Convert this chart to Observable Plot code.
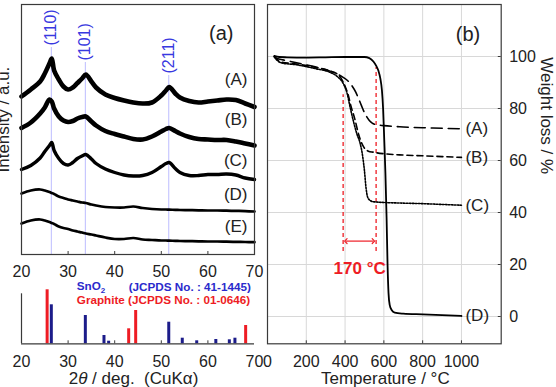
<!DOCTYPE html>
<html>
<head>
<meta charset="utf-8">
<script src="https://cdn.jsdelivr.net/npm/d3@7"></script>
<script src="https://cdn.jsdelivr.net/npm/@observablehq/plot@0.6"></script>
<style>
  body { margin: 0; background: #fff; }
  #fig { position: relative; width: 556px; height: 387px; overflow: hidden; background: #fff; }
  #fig svg { position: absolute; overflow: visible; background: transparent; }
</style>
</head>
<body>
<div id="fig"></div>
<script>
// ---------- (a) XRD patterns ----------
const twoTheta = [20, 22, 24, 25, 26, 26.5, 27, 28, 29, 30, 31, 32, 33, 33.8, 35, 36, 38, 40, 42, 44,
                  46, 48, 50, 51, 51.7, 53, 54, 56, 58, 60, 62, 64, 66, 68, 70];
const xrdA = [158, 165, 173, 181, 191, 196, 184, 175, 168, 165, 167, 171.5, 176, 180, 173, 167, 160, 156.5, 154, 152,
              151, 152, 159, 164, 167.5, 161, 157, 153.5, 152, 153, 154, 155, 154.5, 151, 147.5];
const xrdB = [126.5, 132, 141, 147, 155, 153, 146, 138, 134, 132.5, 133.5, 136, 137.5, 138, 133, 129, 123.5, 120.5, 118, 115.5,
              115, 118, 123, 125.5, 126.5, 123.5, 121, 117.5, 115.5, 115, 114.5, 114.5, 113, 111, 109];
const xrdC = [85, 89, 96.5, 103, 109, 112, 104, 96, 91, 89.5, 92, 96, 98.5, 100, 95.5, 91, 85.5, 82, 79.5, 78.5,
              79, 82, 88, 91, 92, 86, 82, 79, 79, 80, 80, 80.5, 79.5, 76.5, 75];
const xrdD = [61, 64, 65, 64, 62.5, 61.5, 60.5, 58, 56.5, 55, 54, 53, 52, 51.5, 50, 49, 47.5, 47, 47, 48,
              46.5, 45.5, 45, 45, 44.8, 44.7, 44.5, 44.4, 44.2, 44, 44, 43.8, 43.6, 43.4, 43];
const xrdE = [31, 34, 35, 34, 32.5, 31.5, 30.5, 28, 26.5, 25.5, 24, 23, 22, 21, 20, 19, 17, 15.5, 15.5, 16.5,
              15, 14.5, 14, 14, 13.8, 13.7, 13.5, 13.4, 13.2, 13, 13, 12.8, 12.6, 12.5, 12.3];
const sampleNames = ["(A)", "(B)", "(C)", "(D)", "(E)"];

// SnO2 reflections marked on the patterns
const hklIndex = ["(110)", "(101)", "(211)"];
const hklAngle = [26.4, 33.7, 51.6];

// Reference patterns
const sno2Angle = [26.4, 33.7, 37.7, 38.7, 51.6, 54.5, 57.6, 61.7, 64.6, 65.8];
const sno2Height = [39, 28.3, 8.3, 2.6, 21.6, 5.6, 3, 4.3, 4, 5.6];
const graphiteAngle = [25.5, 43.0, 44.5, 68.1];
const graphiteHeight = [54, 15, 33.3, 18.3];
const xrdTicks = [20, 30, 40, 50, 60, 70];

// ---------- (b) TG curves ----------
const tgTempA = [35, 50, 80, 150, 240, 340, 390, 415, 435, 455, 470, 485, 495, 510, 525, 540, 560, 600, 700, 800, 900, 1000];
const tgWtA   = [100, 99.2, 98.7, 97.6, 96.1, 93.9, 92, 90.6, 88.8, 86.3, 83.7, 81, 79.2, 77, 75.4, 74.4, 73.8, 73.4, 72.9, 72.6, 72.4, 72.2];
const tgTempB = [35, 50, 70, 150, 250, 320, 360, 380, 400, 415, 430, 450, 470, 490, 505, 520, 545, 600, 700, 800, 900, 1000];
const tgWtB   = [100, 98.8, 97.9, 97.1, 95.8, 94.5, 93.2, 91.6, 88.5, 85.5, 81, 76, 70, 66, 64.3, 63.6, 63.2, 62.6, 62.1, 61.8, 61.5, 61.2];
const tgTempC = [35, 50, 70, 150, 250, 323, 360, 392, 410, 426, 445, 461, 478, 490, 500, 508, 516, 528, 550, 700, 800, 900, 1000];
const tgWtC   = [99.8, 98.5, 97.6, 96.8, 95.3, 93.9, 92.3, 89.4, 86, 80.5, 74.5, 70.2, 66.5, 62, 56, 49.5, 46, 44.7, 44.1, 43.6, 43.4, 43.1, 42.8];
const tgTempD = [35, 60, 100, 200, 300, 400, 500, 525, 546, 560, 572, 582, 590, 596, 602, 608, 614, 619, 624, 630, 640, 656, 700, 800, 900, 1000];
const tgWtD   = [100.2, 99.8, 99.7, 99.6, 99.7, 99.8, 99.8, 99.4, 98.1, 96.5, 94.5, 91.5, 87, 80, 68, 55, 38, 20, 9, 4.5, 2.5, 1.5, 1.1, 0.8, 0.5, 0.2];
const tgNames = ["(A)", "(B)", "(C)", "(D)"];
const onsetTemp = [390, 560];
const onsetWeight = [85.3, 95.8];
const tempTicks = [0, 200, 400, 600, 800, 1000];
const weightTicks = [0, 20, 40, 60, 80, 100];

// ---------- styles ----------
const FONT = "'Liberation Sans', Arial, Helvetica, sans-serif";
const INK = "#222";
const FRAME = "#3a3a3a";
const RED = "#ee1c24";
const NAVY = "#1c1c8a";
const HKL_BLUE = "#3838e0";
const LEGEND_BLUE = "#2a2acc";
const plain = d => String(d);

const fig = document.getElementById("fig");
function place(svg, left, top) {
  svg.style.left = left + "px";
  svg.style.top = top + "px";
  fig.appendChild(svg);
  return svg;
}
// Rebuild a text node with styled spans (italic symbols, subscripts).
function richText(svg, plainText, parts) {
  const ns = "http://www.w3.org/2000/svg";
  svg.querySelectorAll("text").forEach(t => {
    if (t.textContent === plainText) {
      t.textContent = "";
      for (const [s, attrs] of parts) {
        const ts = document.createElementNS(ns, "tspan");
        ts.textContent = s;
        for (const k in attrs) ts.setAttribute(k, attrs[k]);
        t.appendChild(ts);
      }
    }
  });
}

// ---------- panel (a), patterns ----------
const xrdSeries = [xrdA, xrdB, xrdC, xrdD, xrdE];
const xrdWidths = [4.6, 4.6, 3.4, 2.7, 2.7];
const seriesRows = xrdSeries.map(vals => vals.map((v, i) => ({t: twoTheta[i], v})));
const hklTop = [207, 192, 179];          // where each rule meets its label
const sampleLabelY = [175, 135, 93.7, 59.7, 27.7];

const xrdPlot = Plot.plot({
  width: 270, height: 287,
  marginLeft: 21, marginRight: 16, marginTop: 4, marginBottom: 33,
  x: {domain: [20, 70]},
  y: {domain: [0, 250], axis: null},
  style: {fontFamily: FONT, fontSize: "16px", color: INK, background: "transparent", overflow: "visible"},
  marks: [
    Plot.ruleX(hklAngle, {x: d => d, y1: 0, y2: (d, i) => hklTop[i], stroke: "#bcbcff", strokeWidth: 1}),
    Plot.text(hklIndex, {x: (d, i) => hklAngle[i], y: (d, i) => hklTop[i] + 2, text: d => d,
      rotate: -90, textAnchor: "start", fill: HKL_BLUE, fontSize: 16}),
    ...seriesRows.map((rows, k) => Plot.line(rows, {x: "t", y: "v", curve: "catmull-rom",
      stroke: "#000", strokeWidth: xrdWidths[k], strokeLinejoin: "round"})),
    Plot.text(sampleNames, {y: (d, i) => sampleLabelY[i], text: d => d, frameAnchor: "right",
      dx: -7, textAnchor: "end", fontSize: 17, fill: INK}),
    Plot.text(["(a)"], {text: d => d, frameAnchor: "top-right", dx: -21, dy: 21, fontSize: 20, fill: INK}),
    Plot.text(["Intensity / a.u."], {text: d => d, frameAnchor: "left", dx: -12.5, dy: 43,
      rotate: -90, lineAnchor: "bottom", fontSize: 17, fill: INK}),
    Plot.ruleX(xrdTicks.slice(1, -1), {x: d => d, y1: 0, y2: 3, stroke: FRAME}),
    Plot.frame({stroke: FRAME, strokeWidth: 1.2}),
    Plot.axisX({ticks: xrdTicks, tickFormat: plain, tickSize: 0, tickPadding: 11, label: null, fontSize: 16})
  ]
});
place(xrdPlot, 0, 0);

// ---------- panel (a), reference patterns ----------
const refPlot = Plot.plot({
  width: 270, height: 117,
  marginLeft: 21, marginRight: 16, marginTop: 23.3, marginBottom: 43.7,
  x: {domain: [20, 70]},
  y: {domain: [0, 50], axis: null},
  style: {fontFamily: FONT, fontSize: "16px", color: INK, background: "transparent", overflow: "visible"},
  marks: [
    Plot.ruleX(graphiteAngle, {x: d => d, y1: 0, y2: (d, i) => graphiteHeight[i], stroke: RED, strokeWidth: 3}),
    Plot.ruleX(sno2Angle, {x: d => d, y1: 0, y2: (d, i) => sno2Height[i], stroke: NAVY, strokeWidth: 3}),
    Plot.ruleX([20], {x: d => d, stroke: FRAME, strokeWidth: 1.2}),
    Plot.ruleY([0], {y: d => d, stroke: FRAME, strokeWidth: 1.2}),
    Plot.ruleX(xrdTicks.slice(1, -1), {x: d => d, y1: 0, y2: 3, stroke: FRAME}),
    Plot.text(["SnO2"], {text: d => d, frameAnchor: "top-left", dx: 55.3, dy: -3.8, textAnchor: "start",
      lineAnchor: "bottom", fill: LEGEND_BLUE, fontWeight: "bold", fontSize: 11.7}),
    Plot.text(["(JCPDS No. : 41-1445)"], {text: d => d, frameAnchor: "top-right", dx: -3.7, dy: -3.3,
      textAnchor: "end", lineAnchor: "bottom", fill: LEGEND_BLUE, fontWeight: "bold", fontSize: 11.7}),
    Plot.text(["Graphite (JCPDS No. : 01-0646)"], {text: d => d, frameAnchor: "top-left", dx: 55.3, dy: 10.3,
      textAnchor: "start", lineAnchor: "bottom", fill: RED, fontWeight: "bold", fontSize: 11.7}),
    Plot.axisX({ticks: xrdTicks, tickFormat: plain, tickSize: 0, tickPadding: 12, label: null, fontSize: 16}),
    Plot.text(["2θ / deg.  (CuKα)"], {text: d => d, frameAnchor: "bottom", dx: -4.5, dy: 40,
      lineAnchor: "bottom", fontSize: 17, fill: INK})
  ]
});
richText(refPlot, "SnO2", [["SnO", {}], ["2", {"font-size": "8px", dy: "2.5"}]]);
richText(refPlot, "2θ / deg.  (CuKα)", [["2", {}], ["θ", {"font-style": "italic"}], [" / deg.  (CuKα)", {}]]);
place(refPlot, 0, 270);

// ---------- panel (b), TG curves ----------
const tgSeries = [
  {temp: tgTempA, wt: tgWtA, dash: "11,6", width: 1.6},
  {temp: tgTempB, wt: tgWtB, dash: "6,4", width: 1.6},
  {temp: tgTempC, wt: tgWtC, dash: "1.6,1.4", width: 1.6},
  {temp: tgTempD, wt: tgWtD, dash: null, width: 1.8}
];
const X_MAX = 1205, Y_MIN = -10.5;
const tgPlot = Plot.plot({
  width: 306, height: 387,
  marginLeft: 17, marginRight: 55.3, marginTop: 4, marginBottom: 43.7,
  x: {domain: [0, X_MAX]},
  y: {domain: [Y_MIN, 120]},
  style: {fontFamily: FONT, fontSize: "16px", color: INK, background: "transparent", overflow: "visible"},
  marks: [
    Plot.gridX(tempTicks.slice(1), {stroke: "#d8d8d8", strokeOpacity: 1}),
    Plot.gridY(weightTicks, {stroke: "#d8d8d8", strokeOpacity: 1}),
    Plot.ruleX(onsetTemp, {x: d => d, y1: 25, y2: (d, i) => onsetWeight[i], stroke: RED,
      strokeWidth: 1.3, strokeDasharray: "4,3"}),
    Plot.link([onsetTemp], {x1: d => d[0] + 14, x2: d => d[1] - 14, y1: 29, y2: 29,
      stroke: RED, strokeWidth: 1.2, markerStart: "arrow-reverse", markerEnd: "arrow"}),
    Plot.text([onsetTemp], {x: d => (d[0] + d[1]) / 2, y: 18.5, text: d => `${d[1] - d[0]} °C`,
      fill: RED, fontWeight: "bold", fontSize: 17}),
    ...tgSeries.map(s => Plot.line(s.temp.map((t, i) => ({t, w: s.wt[i]})), {x: "t", y: "w",
      curve: "monotone-x", stroke: "#000", strokeWidth: s.width, strokeDasharray: s.dash})),
    Plot.text(tgSeries, {x: s => s.temp[s.temp.length - 1], y: s => s.wt[s.wt.length - 1],
      text: (s, i) => tgNames[i], dx: 4, textAnchor: "start", fontSize: 17, fill: INK}),
    Plot.text(["(b)"], {text: d => d, frameAnchor: "top-right", dx: -21, dy: 22, fontSize: 20, fill: INK}),
    Plot.ruleX(tempTicks.slice(1), {x: d => d, y1: Y_MIN, y2: Y_MIN + 1.15, stroke: FRAME}),
    Plot.ruleY(weightTicks, {y: d => d, x1: X_MAX - 15, x2: X_MAX, stroke: FRAME}),
    Plot.frame({stroke: FRAME, strokeWidth: 1.2}),
    Plot.axisX({ticks: tempTicks, tickFormat: plain, tickSize: 0, tickPadding: 12, label: null, fontSize: 16}),
    Plot.axisY({ticks: weightTicks, tickFormat: plain, anchor: "right", tickSize: 0, tickPadding: 8, label: null, fontSize: 16}),
    Plot.text(["Temperature / °C"], {text: d => d, frameAnchor: "bottom", dx: 1, dy: 40,
      lineAnchor: "bottom", fontSize: 17, fill: INK}),
    Plot.text(["Weight loss / %"], {text: d => d, frameAnchor: "right", dx: 45, rotate: 90,
      fontSize: 17, fill: INK})
  ]
});
place(tgPlot, 250, 0);
</script>
</body>
</html>
